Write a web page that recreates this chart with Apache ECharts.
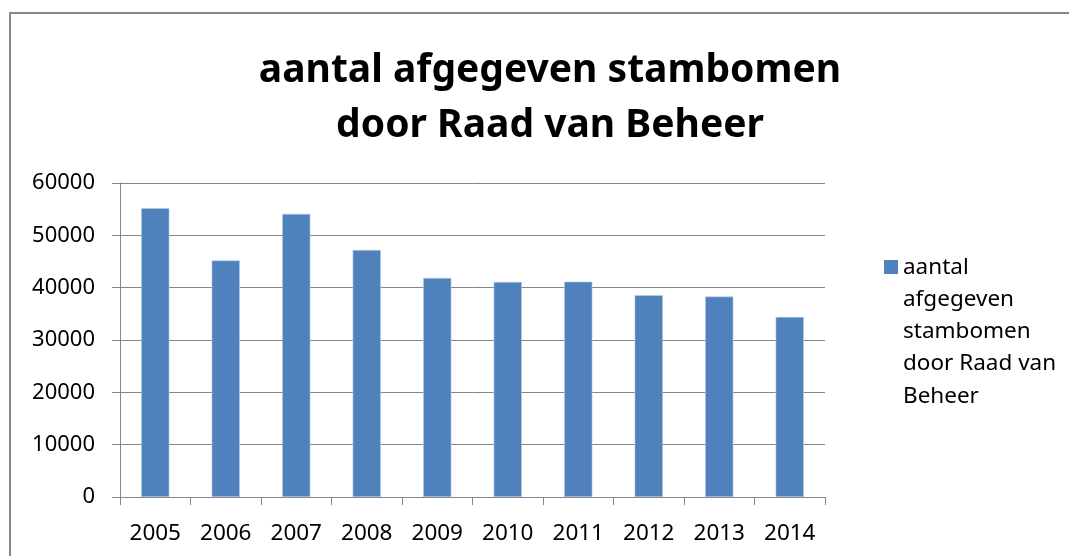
<!DOCTYPE html>
<html lang="nl">
<head>
    <meta charset="UTF-8">
    <script src="https://cdn.jsdelivr.net/npm/echarts@6/dist/echarts.min.js"></script>
    <title>aantal afgegeven stambomen</title>
    <style>
        html, body { margin: 0; padding: 0; background: #fff; }
        #main { width: 1069px; height: 556px; }
    </style>
</head>
<body>
<div id="main"></div>
<script>
    // data
    var years = ['2005', '2006', '2007', '2008', '2009', '2010', '2011', '2012', '2013', '2014'];
    var stambomen = [55200, 45200, 54100, 47200, 41850, 41100, 41150, 38550, 38300, 34400];
    var seriesName = 'aantal afgegeven stambomen door Raad van Beheer';
    var legendLines = ['aantal', 'afgegeven', 'stambomen', 'door Raad van', 'Beheer'];
    var titleText = 'aantal afgegeven stambomen\ndoor Raad van Beheer';

    var lineGray = '#868686';
    var font = 'Noto Sans';
    var legendLineH = 32.3;
    var legendBlockH = legendLineH * legendLines.length;

    var myChart = echarts.init(document.getElementById('main'));

    var option = {
        backgroundColor: '#fff',
        animation: false,
        title: {
            text: titleText,
            left: 545,
            top: 38,
            textAlign: 'center',
            textStyle: {
                fontFamily: font,
                fontSize: 39,
                fontWeight: 'bold',
                color: '#000',
                lineHeight: 55
            }
        },
        legend: {
            left: 879,
            top: 246,
            orient: 'vertical',
            itemWidth: 14,
            itemHeight: legendBlockH,
            icon: 'path://M0,0M0,9h14v14h-14zM14,' + legendBlockH,
            itemStyle: { borderWidth: 0 },
            data: [seriesName],
            formatter: function () {
                return legendLines.join('\n');
            },
            textStyle: {
                fontFamily: font,
                fontSize: 22.5,
                color: '#000',
                lineHeight: legendLineH
            }
        },
        grid: {
            left: 120,
            right: 244,
            top: 183,
            bottom: 59,
            containLabel: false
        },
        xAxis: {
            type: 'category',
            data: years,
            axisLine: { lineStyle: { color: lineGray, width: 1 } },
            axisTick: { show: true, length: 8, lineStyle: { color: lineGray } },
            axisLabel: {
                fontFamily: font,
                fontSize: 22.5,
                color: '#000',
                margin: 25
            }
        },
        yAxis: {
            type: 'value',
            min: 0,
            max: 60000,
            interval: 10000,
            axisLine: { show: true, lineStyle: { color: lineGray, width: 1 } },
            axisTick: { show: true, length: 8, lineStyle: { color: lineGray } },
            splitLine: { lineStyle: { color: lineGray, width: 1 } },
            axisLabel: {
                fontFamily: font,
                fontSize: 22,
                color: '#000',
                margin: 25,
                formatter: function (v) { return String(v); }
            }
        },
        series: [
            {
                name: seriesName,
                type: 'bar',
                data: stambomen,
                barWidth: '40%',
                itemStyle: {
                    color: '#4F81BD',
                    borderColor: '#b9cde5',
                    borderWidth: 0.6
                }
            }
        ],
        graphic: [
            {
                // chart area border
                type: 'rect',
                silent: true,
                shape: { x: 10, y: 13, width: 1100, height: 600 },
                style: { fill: 'none', stroke: '#888', lineWidth: 2 }
            }
        ]
    };

    myChart.setOption(option);
</script>
</body>
</html>
